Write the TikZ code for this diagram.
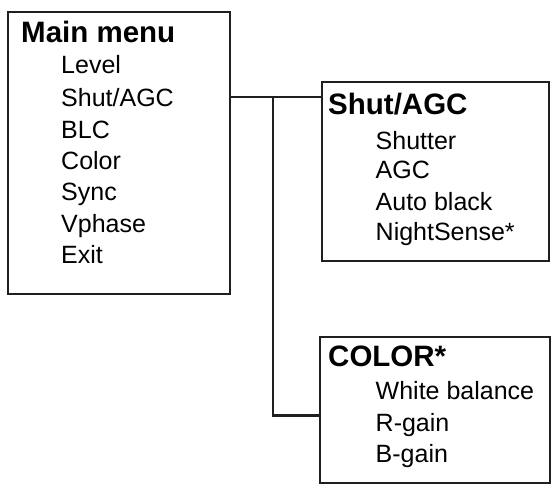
\documentclass[tikz,border=0pt]{standalone}
\usepackage{fontspec}
\setmainfont{Liberation Sans}
\begin{document}
\begin{tikzpicture}[x=1pt,y=-1pt,
  box/.style={draw=black!88,line width=2.2pt,inner sep=0pt,anchor=north west},
  title/.style={anchor=base west,inner sep=0pt,font=\fontsize{29.5}{31}\selectfont\bfseries},
  item/.style={anchor=base west,inner sep=0pt,font=\fontsize{25}{27}\selectfont},
  link/.style={draw=black!88,line width=2.2pt}]
\useasboundingbox (0,0) rectangle (556,487);
% boxes
\node[box,minimum width=222pt,minimum height=282pt] (main) at (7,11) {};
\node[box,minimum width=227pt,minimum height=179pt] (shut) at (321,81) {};
\node[box,minimum width=230pt,minimum height=146pt] (color) at (318.5,336) {};
% main menu texts
\node[title] (mt) at (21,43) {Main menu};
\node[item] (m1) at (61,74) {Level};
\node[item] (m2) at (61,106) {Shut/AGC};
\node[item] (m3) at (61,138) {BLC};
\node[item] (m4) at (61,169) {Color};
\node[item] (m5) at (61,200.5) {Sync};
\node[item] (m6) at (61,232) {Vphase};
\node[item] (m7) at (61,263) {Exit};
% shut/agc texts
\node[title] (st) at (328,114.5) {Shut/AGC};
\node[item] (s1) at (375.5,149) {Shutter};
\node[item] (s2) at (375.5,178.5) {AGC};
\node[item] (s3) at (375.5,210) {Auto black};
\node[item] (s4) at (375.5,240.5) {NightSense*};
% color texts
\node[title] (ct) at (328,366.5) {COLOR*};
\node[item] (c1) at (375.5,399) {White balance};
\node[item] (c2) at (375.5,431) {R-gain};
\node[item] (c3) at (375.5,462.5) {B-gain};
% connectors
\coordinate (ma) at (main.north east |- 0,97);
\coordinate (sa) at (shut.north west |- 0,97);
\coordinate (j) at (273,97);
\coordinate (k) at (273,415.5);
\coordinate (ca) at (color.north west |- 0,415.5);
\draw[link] (ma) -- (sa);
\draw[link] (j) -- (k) -- (ca);
\end{tikzpicture}
\end{document}
